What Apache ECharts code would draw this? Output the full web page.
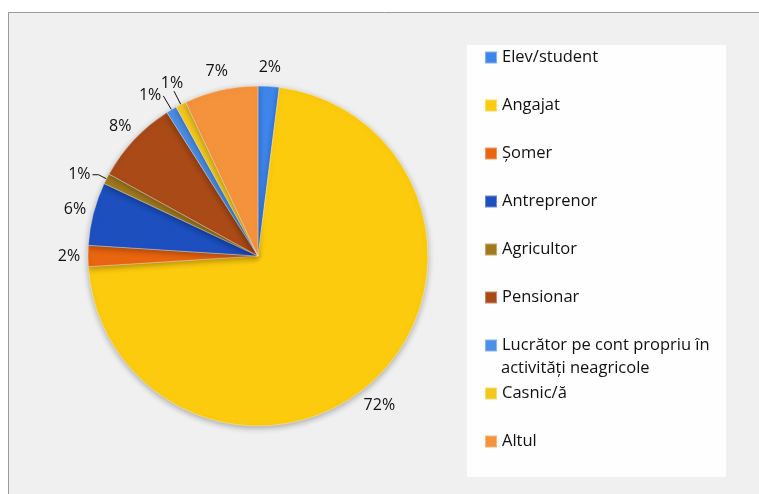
<!DOCTYPE html>
<html>
<head>
<meta charset="utf-8">
<script src="https://cdn.jsdelivr.net/npm/echarts@6/dist/echarts.min.js"></script>
<style>
    html, body { margin: 0; padding: 0; background: #ffffff; }
    #chart { width: 759px; height: 494px; }
</style>
</head>
<body>
<div id="chart"></div>
<script>
// categorii si procente
var categories = ['Elev/student', 'Angajat', 'Șomer', 'Antreprenor', 'Agricultor',
    'Pensionar', 'Lucrător pe cont propriu în activități neagricole', 'Casnic/ă', 'Altul'];
var values = [2, 72, 2, 6, 1, 8, 1, 1, 7];
var colors = ['#3f86ec', '#fccb0e', '#e9650f', '#1d4fbf', '#a27a1e',
    '#a94a17', '#4b8fe6', '#f3c81e', '#f5923c'];
// felii mici cu linie de legatura spre eticheta
var showLine = [false, false, false, false, true, false, true, true, false];

var FONT = 'Open Sans';

var pieData = [];
for (var i = 0; i < categories.length; i++) {
    var item = {
        name: categories[i],
        value: values[i],
        itemStyle: { color: colors[i] },
        labelLine: { show: showLine[i] }
    };
    if (showLine[i]) {
        item.label = { distanceToLabelLine: 2 };
    }
    pieData.push(item);
}
// lungimi individuale pentru liniile de legatura
pieData[4].labelLine.length = 9;
pieData[4].labelLine.length2 = 6;
pieData[6].labelLine.length = 16;
pieData[6].labelLine.length2 = 0;
pieData[7].labelLine.length = 15;
pieData[7].labelLine.length2 = 0;

var myChart = echarts.init(document.getElementById('chart'));
myChart.setOption({
    animation: false,
    graphic: [
        {
            type: 'rect', z: -10,
            shape: { x: 8.5, y: 12.5, width: 760, height: 490 },
            style: { fill: '#f0f0f0', stroke: '#9a9a9a', lineWidth: 1 }
        },
        {
            type: 'rect', z: -9,
            shape: { x: 467, y: 45, width: 259, height: 432 },
            style: { fill: '#fefefe' }
        },
        {
            // al doilea rand din legenda pentru "Lucrator..."
            type: 'text', z: 10,
            style: {
                x: 501, y: 368, text: 'activități neagricole',
                fill: '#111', font: '16.5px "' + FONT + '"', verticalAlign: 'middle'
            }
        }
    ],
    legend: {
        orient: 'vertical',
        left: 484,
        top: 49,
        padding: 0,
        itemWidth: 12,
        itemHeight: 12,
        itemGap: 31,
        icon: 'rect',
        data: categories,
        formatter: function (name) {
            if (name.indexOf('Lucrător') === 0) return 'Lucrător pe cont propriu în';
            return name;
        },
        textStyle: { fontFamily: FONT, fontSize: 16.5, color: '#111', lineHeight: 16 }
    },
    series: [{
        type: 'pie',
        center: [258, 256],
        radius: 170,
        startAngle: 90,
        clockwise: true,
        avoidLabelOverlap: false,
        data: pieData,
        itemStyle: {
            borderColor: 'rgba(255,255,255,0.35)',
            borderWidth: 1,
            shadowBlur: 6,
            shadowOffsetY: 2,
            shadowColor: 'rgba(0,0,0,0.3)'
        },
        label: {
            show: true,
            position: 'outside',
            distanceToLabelLine: 0,
            formatter: function (p) { return p.value + '%'; },
            fontFamily: FONT,
            fontSize: 16,
            color: '#111'
        },
        labelLine: {
            length: 19,
            length2: 0,
            lineStyle: { color: '#111', width: 1 }
        },
        labelLayout: function (params) {
            var k = params.dataIndex;
            if (k === 1) return { align: 'center', dx: -8, dy: 12 };
            if (k === 7) return { align: 'center', verticalAlign: 'bottom' };
            if (!showLine[k]) return { align: 'center' };
            return {};
        },
        emphasis: { disabled: true }
    }]
});
</script>
</body>
</html>
